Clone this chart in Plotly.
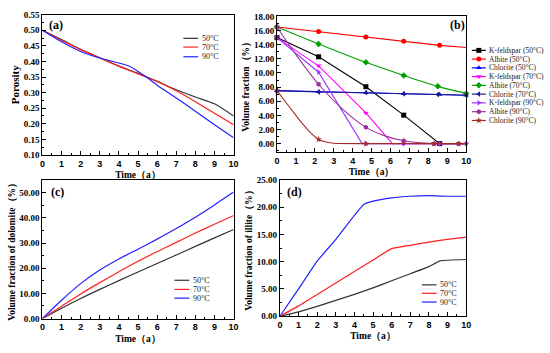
import plotly.graph_objects as go

W, H = 550, 353
SERIF = "Liberation Serif"
SANS = "Liberation Sans"

# ---------------- data ----------------
# (a) porosity
t_a = [0, 1, 2, 3, 4, 5, 6, 7, 8, 9, 10]
por_50 = [0.500, 0.470, 0.439, 0.412, 0.385, 0.362, 0.336, 0.309, 0.286, 0.264, 0.225]
por_70 = [0.500, 0.468, 0.438, 0.411, 0.385, 0.360, 0.336, 0.306, 0.271, 0.234, 0.197]
t_a90 = [0, 1, 2, 3, 4, 4.5, 5, 5.5, 6, 7, 8, 9, 10]
por_90 = [0.500, 0.463, 0.432, 0.411, 0.395, 0.386, 0.368, 0.347, 0.324, 0.283, 0.240, 0.197, 0.155]

# (b) mineral volume fractions: line points and marker points
kf50_t = [0, 2.2, 4.7, 6.7, 8.6, 10]
kf50_v = [15.0, 12.28, 8.05, 4.03, 0.0, 0.0]
kf50_mt = [0, 2.2, 4.7, 6.7, 8.6]
kf50_mv = [15.0, 12.28, 8.05, 4.03, 0.0]

ab50_t = [0, 2.2, 4.7, 6.7, 8.6, 10]
ab50_v = [16.5, 15.85, 15.1, 14.5, 13.9, 13.6]
ab50_mt = [0, 2.2, 4.7, 6.7, 8.6]
ab50_mv = [16.5, 15.85, 15.1, 14.5, 13.9]

ch50_t = [0, 2.2, 4.7, 6.7, 8.6, 10]
ch50_v = [7.5, 7.33, 7.18, 7.05, 6.95, 6.85]

kf70_t = [0, 2.2, 4.7, 6.1, 6.7, 8.6, 10]
kf70_v = [15.0, 11.0, 4.35, 0.0, 0.0, 0.0, 0.0]
kf70_mt = [0, 2.2, 4.7, 6.7, 8.6, 10]
kf70_mv = [15.0, 11.0, 4.35, 0.0, 0.0, 0.0]

ab70_t = [0, 2.2, 4.7, 6.7, 8.5, 10]
ab70_v = [16.5, 14.1, 11.5, 9.65, 8.1, 7.1]

ch70_t = [0, 2.2, 4.7, 6.7, 8.5, 10]
ch70_v = [7.5, 7.3, 7.2, 7.05, 6.95, 6.85]

kf90_t = [0, 2.2, 4.5, 4.7, 6.7, 8.6, 10]
kf90_v = [15.0, 10.1, 0.0, 0.0, 0.0, 0.0, 0.0]
kf90_mt = [0, 2.2, 4.7, 6.7, 8.6, 10]
kf90_mv = [15.0, 10.1, 0.0, 0.0, 0.0, 0.0]

ab90_t = [0, 1, 2.2, 3.5, 4.7, 5.7, 6.7, 8.3, 9.6, 10]
ab90_v = [16.5, 12.6, 8.4, 4.8, 2.3, 1.1, 0.4, 0.0, 0.0, 0.0]
ab90_mt = [0, 2.2, 4.7, 6.7, 8.3, 9.6]
ab90_mv = [16.5, 8.4, 2.3, 0.4, 0.0, 0.0]

ch90_t = [0, 0.47, 1.0, 1.4, 1.8, 2.2, 2.6, 3.0, 4.7, 8.3, 9.6, 10]
ch90_v = [7.5, 5.85, 4.0, 2.66, 1.5, 0.6, 0.22, 0.05, 0.0, 0.0, 0.0, 0.0]
ch90_mt = [0, 2.2, 4.7, 8.3, 9.6]
ch90_mv = [7.5, 0.6, 0.0, 0.0, 0.0]

# (c) dolomite
t_c = [0, 1, 2, 3, 4, 5, 6, 7, 8, 9, 10]
dol_50 = [0, 4.1, 8.0, 11.6, 15.1, 18.5, 21.9, 25.3, 28.7, 32.1, 35.4]
dol_70 = [0, 4.9, 9.8, 14.3, 18.6, 22.8, 26.6, 30.3, 34.0, 37.5, 41.0]
dol_90 = [0, 7.3, 13.9, 19.3, 23.7, 27.6, 31.6, 35.8, 40.3, 45.2, 50.3]

# (d) illite
t_d50 = [0, 1, 2, 3, 4, 5, 6, 7, 8, 8.6, 10]
ill_50 = [0, 0.8, 1.8, 2.9, 4.0, 5.2, 6.5, 7.8, 9.1, 10.15, 10.4]
t_d70 = [0, 1, 2, 3, 4, 5, 6, 7, 8, 9, 10]
ill_70 = [0, 1.9, 4.0, 6.1, 8.2, 10.3, 12.4, 13.0, 13.6, 14.1, 14.5]
t_d90 = [0, 1, 2, 3, 4, 4.5, 5, 6, 7, 8, 9, 10]
ill_90 = [0, 5.0, 10.1, 14.1, 18.5, 20.5, 21.1, 21.7, 22.0, 22.1, 22.0, 22.0]

temp_labels = ["50°C", "70°C", "90°C"]
temp_colors = ["#333333", "#FF2020", "#2020FF"]

b_names = ["K-feldspar (50°C)", "Albite (50°C)", "Chlorite (50°C)",
           "K-feldspar (70°C)", "Albite (70°C)", "Chlorite (70°C)",
           "K-feldspar (90°C)", "Albite (90°C)", "Chlorite (90°C)"]
b_colors = ["#000000", "#FF0000", "#0000FF", "#FF00FF", "#00A000", "#1A1A90",
            "#9933FF", "#993399", "#A52A2A"]
b_symbols = ["square", "circle", "triangle-up", "triangle-down", "diamond",
             "triangle-left", "triangle-right", "hexagon", "star"]

fig = go.Figure()

def py(px):
    return 1 - px / H

# ---------- (a) ----------
for t, v, c, n in [(t_a, por_50, temp_colors[0], temp_labels[0]),
                   (t_a, por_70, temp_colors[1], temp_labels[1]),
                   (t_a90, por_90, temp_colors[2], temp_labels[2])]:
    fig.add_trace(go.Scatter(x=t, y=v, mode="lines", name=n, showlegend=False,
                             line=dict(color=c, width=1.2, shape="spline", smoothing=0.6),
                             xaxis="x", yaxis="y"))

# ---------- (b) ----------
b_series = [
    (kf50_t, kf50_v, kf50_mt, kf50_mv, False),
    (ab50_t, ab50_v, ab50_mt, ab50_mv, False),
    (ch50_t, ch50_v, ch50_t, ch50_v, False),
    (kf70_t, kf70_v, kf70_mt, kf70_mv, False),
    (ab70_t, ab70_v, ab70_t, ab70_v, True),
    (ch70_t, ch70_v, ch70_t, ch70_v, False),
    (kf90_t, kf90_v, kf90_mt, kf90_mv, False),
    (ab90_t, ab90_v, ab90_mt, ab90_mv, True),
    (ch90_t, ch90_v, ch90_mt, ch90_mv, True),
]
for i, (lt, lv, mt, mv, smooth) in enumerate(b_series):
    fig.add_trace(go.Scatter(x=lt, y=lv, mode="lines", showlegend=False, name=b_names[i],
                             line=dict(color=b_colors[i], width=1.1,
                                       shape="spline" if smooth else "linear", smoothing=0.7),
                             xaxis="x2", yaxis="y2"))
    fig.add_trace(go.Scatter(x=mt, y=mv, mode="markers", showlegend=False, name=b_names[i],
                             marker=dict(color=b_colors[i], symbol=b_symbols[i], size=5),
                             cliponaxis=False, xaxis="x2", yaxis="y2"))

# ---------- (c) ----------
for v, c, n in zip([dol_50, dol_70, dol_90], temp_colors, temp_labels):
    fig.add_trace(go.Scatter(x=t_c, y=v, mode="lines", name=n, showlegend=False,
                             line=dict(color=c, width=1.2, shape="spline", smoothing=0.6),
                             xaxis="x3", yaxis="y3"))

# ---------- (d) ----------
for t, v, c, n in [(t_d50, ill_50, temp_colors[0], temp_labels[0]),
                   (t_d70, ill_70, temp_colors[1], temp_labels[1]),
                   (t_d90, ill_90, temp_colors[2], temp_labels[2])]:
    fig.add_trace(go.Scatter(x=t, y=v, mode="lines", name=n, showlegend=False,
                             line=dict(color=c, width=1.2, shape="spline", smoothing=0.4),
                             xaxis="x4", yaxis="y4"))

# ---------- hand-drawn legends on a pixel-space overlay ----------
annotations = []
def legend_block(x0, x1, ys, labels, colors, size, symbols=None):
    for k, (yy, lab, col) in enumerate(zip(ys, labels, colors)):
        fig.add_trace(go.Scatter(x=[x0, x1], y=[yy, yy], mode="lines", showlegend=False,
                                 line=dict(color=col, width=1.2), hoverinfo="skip",
                                 xaxis="x5", yaxis="y5"))
        if symbols:
            fig.add_trace(go.Scatter(x=[(x0 + x1) / 2], y=[yy], mode="markers", showlegend=False,
                                     marker=dict(color=col, symbol=symbols[k], size=5),
                                     hoverinfo="skip", xaxis="x5", yaxis="y5"))
        annotations.append(dict(x=x1 + 1.5, y=yy, xref="x5", yref="y5", text=lab,
                                showarrow=False, xanchor="left", yanchor="middle",
                                font=dict(family=SERIF, size=size, color="#222")))

legend_block(183, 198, [34.3, 43.3, 53.3], temp_labels, temp_colors, 8)
legend_block(475.7, 490, [46.7, 55.7, 64.7, 73.7, 82.7, 91.7, 100.7, 109.8, 118.9],
             b_names, b_colors, 7.5, b_symbols)
legend_block(174, 189, [283.3, 292.7, 301.7], temp_labels, temp_colors, 8)
legend_block(425, 440, [288, 296.7, 305.7], temp_labels, temp_colors, 8)

# panel letters
for lab, xx, yy in [("(a)", 54, 20.7), ("(b)", 461, 20.7), ("(c)", 55, 192.7), ("(d)", 296, 192.5)]:
    annotations.append(dict(x=xx, y=yy, xref="x5", yref="y5", text=lab, showarrow=False,
                            xanchor="center", yanchor="middle",
                            font=dict(family=SERIF, size=12, color="black", weight="bold")))

# ---------- axes ----------
def xax(dom, anchor):
    return dict(domain=dom, anchor=anchor, range=[0, 10], dtick=1, tick0=0,
                ticks="inside", ticklen=4, tickwidth=1, tickcolor="black",
                minor=dict(ticks="inside", ticklen=2, dtick=0.5, tickcolor="black"),
                showline=True, mirror=True, linecolor="black", linewidth=1,
                showgrid=False, zeroline=False,
                tickfont=dict(family=SANS, size=9, color="black", weight="bold"),
                title=dict(text="Time（a）", standoff=3,
                           font=dict(family=SERIF, size=9.5, color="black", weight="bold")))

def yax(dom, anchor, rng, dtick, mdt, title, tsize, standoff):
    return dict(domain=dom, anchor=anchor, range=rng, dtick=dtick, tick0=0, tickformat=".2f",
                ticks="inside", ticklen=4, tickwidth=1, tickcolor="black",
                minor=dict(ticks="inside", ticklen=2, dtick=mdt, tickcolor="black"),
                showline=True, mirror=True, linecolor="black", linewidth=1,
                showgrid=False, zeroline=False,
                tickfont=dict(family=SERIF, size=9, color="black", weight="bold"),
                title=dict(text=title, standoff=standoff,
                           font=dict(family=SERIF, size=tsize, color="black", weight="bold")))

xa = [40 / W, 234 / W]
xb = [278 / W, 470 / W]
xc = [40 / W, 234 / W]
xd = [281 / W, 470 / W]
ya = [py(154.3), py(10)]
yb = [py(151.7), py(11.5)]
yc = [py(322.7), py(180.4)]
yd = [py(320.3), py(180)]

fig.update_layout(
    width=W, height=H,
    margin=dict(l=0, r=0, t=0, b=0),
    paper_bgcolor="white", plot_bgcolor="rgba(0,0,0,0)",
    showlegend=False,
    xaxis=xax(xa, "y"),
    yaxis=yax(ya, "x", [0.10, 0.55], 0.05, 0.025, "Porosity", 11, 2),
    xaxis2=xax(xb, "y2"),
    yaxis2=yax(yb, "x2", [-1.24, 18.03], 2, 1, "Volume fraction（%）", 9.5, 2),
    xaxis3=xax(xc, "y3"),
    yaxis3=yax(yc, "x3", [0, 55], 10, 5, "Volume fraction of dolomite（%）", 9.5, 2),
    xaxis4=xax(xd, "y4"),
    yaxis4=yax(yd, "x4", [0, 25], 5, 2.5, "Volume fraction of illite（%）", 9.5, 2),
    xaxis5=dict(domain=[0, 1], range=[0, W], visible=False, anchor="y5", fixedrange=True),
    yaxis5=dict(domain=[0, 1], range=[H, 0], visible=False, anchor="x5", fixedrange=True),
    annotations=annotations,
)

fig.write_html("out.html", config={"displayModeBar": False},
               post_script="document.body.style.margin='0';document.body.style.overflow='hidden';")
